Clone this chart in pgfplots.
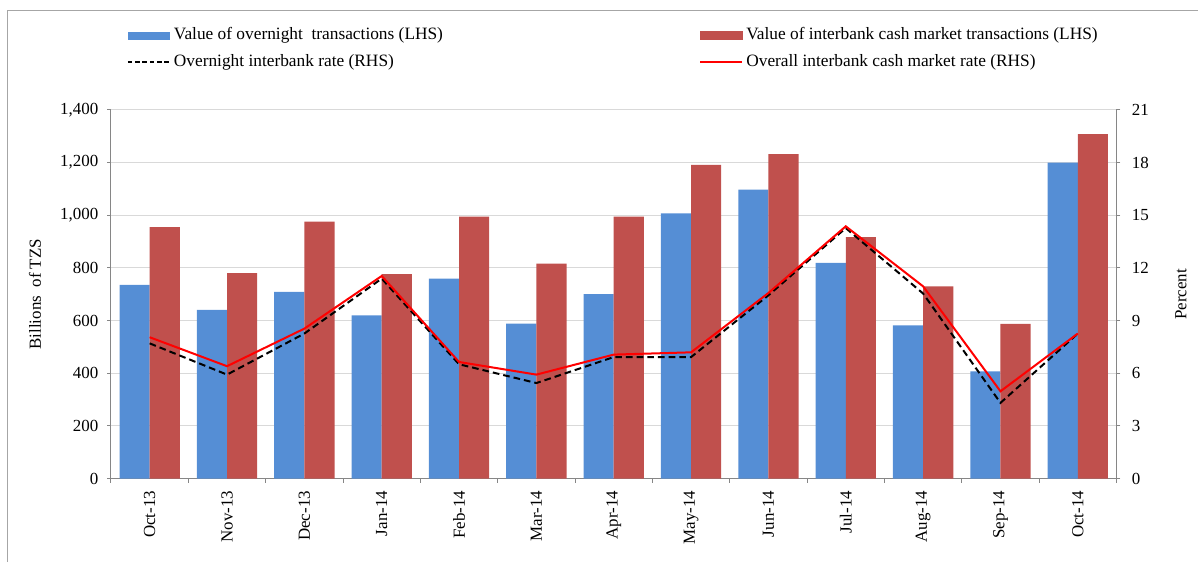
\documentclass[border=0pt]{standalone}
\usepackage{fontspec}
\setmainfont{Liberation Serif}
\usepackage{pgfplots}
\pgfplotsset{compat=1.18}

\definecolor{barblue}{HTML}{558ED5}
\definecolor{barred}{HTML}{C0504D}
\definecolor{axisgray}{HTML}{868686}
\definecolor{gridgray}{HTML}{D9D9D9}
\definecolor{framegray}{HTML}{A6A6A6}

\pgfplotsset{
  base/.style={
    scale only axis, width=754.1pt, height=276.4pt,
    at={(0,0)}, anchor=south west,
    xmin=-0.5, xmax=12.5,
    tick align=outside,
    major tick length=3pt, minor tick length=3pt,
    tick style={axisgray, line width=0.75pt},
    axis line style={axisgray, line width=0.75pt, -},
    every tick label/.append style={font=\fontsize{12.7}{14}\selectfont},
    /pgf/number format/assume math mode=true,
    scaled y ticks=false,
    legend cell align=left,
    legend style={draw=none, fill=none, inner sep=0pt, outer sep=0pt,
      font=\fontsize{13}{15}\selectfont, anchor=north west,
      nodes={inner sep=1pt, text height=9.5pt, text depth=3pt},
      row sep=5.4pt,
      /tikz/every odd column/.append style={column sep=1.5pt}},
  },
}

\begin{document}
\begin{tikzpicture}
\useasboundingbox (-83.25pt,-62.625pt) rectangle (815.25pt,358.875pt);
\draw[framegray, line width=0.75pt] (-77.25pt,-62.625pt) -- (-77.25pt,351.375pt) -- (815.25pt,351.375pt);

% left axis: transaction values (bars)
\begin{axis}[base,
  axis x line*=bottom, axis y line*=left,
  ymin=0, ymax=1400, ytick={0,200,...,1400},
  ymajorgrids, grid style={gridgray, line width=0.75pt},
  xtick={0,...,12},
  xticklabels={Oct-13,Nov-13,Dec-13,Jan-14,Feb-14,Mar-14,Apr-14,May-14,Jun-14,Jul-14,Aug-14,Sep-14,Oct-14},
  major x tick style={draw=none},
  minor xtick={-0.5,0.5,...,12.5},
  xticklabel style={rotate=90, anchor=east},
  xticklabel shift=2.8pt, yticklabel shift=3pt,
  ybar, bar width=0.39,
  ylabel={Billions~~of TZS},
  every axis y label/.style={at={(axis description cs:-0.0756,0.5)}, rotate=90,
    anchor=center, font=\fontsize{12.7}{14}\selectfont},
  legend style={at={(axis description cs:0.0159,1.228)}},
]
\addplot[fill=barblue, draw=none, bar shift=-0.195,
  legend image code/.code={\fill[barblue] (0pt,-3pt) rectangle (31.5pt,3pt);}]
  coordinates {(0,736) (1,641) (2,709) (3,620) (4,759) (5,588) (6,700)
               (7,1007) (8,1097) (9,819) (10,582) (11,407) (12,1200)};
\addlegendentry{Value of overnight~~transactions (LHS)}
\addplot[fill=barred, draw=none, bar shift=0.195, forget plot]
  coordinates {(0,955) (1,780) (2,976) (3,776) (4,995) (5,816) (6,995)
               (7,1191) (8,1232) (9,917) (10,730) (11,587) (12,1308)};
\addlegendimage{legend image code/.code={\draw[black, line width=1.2pt, dash pattern=on 3.5pt off 2pt] (0pt,0pt) -- (31.5pt,0pt);}}
\addlegendentry{Overnight interbank rate (RHS)}
\end{axis}

% right axis: interest rates (lines)
\begin{axis}[base,
  axis x line=none, axis y line*=right,
  ymin=0, ymax=21, ytick={0,3,...,21},
  yticklabel shift=5pt,
  ylabel={Percent},
  every axis y label/.style={at={(axis description cs:1.0641,0.5)}, rotate=90,
    anchor=center, font=\fontsize{12.7}{14}\selectfont},
  legend style={at={(axis description cs:0.5848,1.228)}},
]
\addlegendimage{legend image code/.code={\fill[barred] (0pt,-3pt) rectangle (31.5pt,3pt);}}
\addlegendentry{Value of interbank cash market transactions (LHS)}
\addplot[black, line width=1.5pt, dash pattern=on 5pt off 3pt, forget plot]
  coordinates {(0,7.70) (1,5.92) (2,8.26) (3,11.39) (4,6.51) (5,5.44) (6,6.92)
               (7,6.92) (8,10.44) (9,14.27) (10,10.54) (11,4.31) (12,8.26)};
\addplot[red, line width=1.5pt,
  legend image code/.code={\draw[red, line width=1.5pt] (0pt,0pt) -- (31.5pt,0pt);}]
  coordinates {(0,8.05) (1,6.40) (2,8.54) (3,11.54) (4,6.64) (5,5.92) (6,7.06)
               (7,7.19) (8,10.57) (9,14.37) (10,10.95) (11,4.97) (12,8.26)};
\addlegendentry{Overall interbank cash market rate (RHS)}
\end{axis}
\end{tikzpicture}
\end{document}
